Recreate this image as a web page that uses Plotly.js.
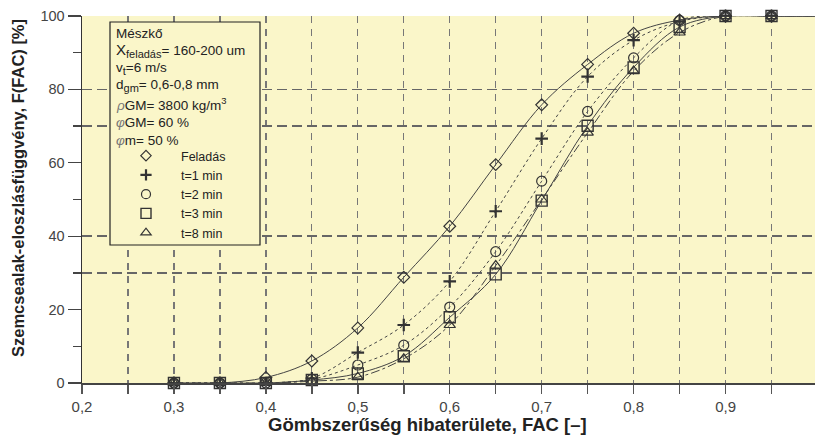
<!DOCTYPE html>
<html><head><meta charset="utf-8">
<script src="https://cdn.plot.ly/plotly-3.0.1.min.js"></script>
<style>html,body{margin:0;padding:0;background:#fff}#chart{width:815px;height:437px}</style>
</head><body><div id="chart"></div>
<script>
// ---- data ----
const fac = [0.3,0.35,0.4,0.45,0.5,0.55,0.6,0.65,0.7,0.75,0.8,0.85,0.9,0.95,1.0];
const feladas = [0,0,1.5,6,15,28.8,42.7,59.5,75.8,86.8,95.3,98.9,100,100,100];
const t1min  = [0,0,0,1.3,8.3,15.8,27.7,46.8,66.6,83.5,93.4,98.5,100,100,100];
const t2min  = [0,0,0,1,4.9,10.3,20.7,35.8,55,74,88.6,98.8,100,100,100];
const t3min  = [0,0,0,0.8,2.6,7.3,17.9,29.6,49.7,70.1,86,97,100,100,100];
const t8min  = [0,0,0,0.5,1.6,6.6,15.8,32,50,68.2,85,95.5,100,100,100];
const seriesNames = ['Feladás','t=1 min','t=2 min','t=3 min','t=8 min'];
const yTickVals = [0,20,40,60,80,100];
const yGridVals = [30,40,70,80];
const S = t => '<sub><span style="font-size:11px">'+t+'</span></sub>';
const infoLines = [
  'Mészkő',
  '<span style="font-size:15px">X</span>'+S('feladás')+'= 160-200 um',
  'v'+S('t')+'=6 m/s',
  'd'+S('gm')+'= 0,6-0,8 mm',
  '<i><span style="color:#777">ρ</span></i>GM= 3800 kg/m<sup>3</sup>',
  '<i><span style="color:#777">φ</span></i>GM= 60 %',
  '<i><span style="color:#777">φ</span></i>m= 50 %'
];

const ink = '#333';
const bg = '#faf6c9';
const ys = [feladas,t1min,t2min,t3min,t8min];
const sym = ['diamond-open','cross-thin-open','circle-open','square-open','triangle-up-open'];
const msize = [9,9,10,11,10];
const mline = [1.2,2.2,1.2,1.4,1.2];
const dash = ['solid','dot','dot','solid','dashdot'];

const traces = [];
ys.forEach((y,i)=>{
  traces.push({x:fac,y:y,type:'scatter',mode:'lines+markers',showlegend:false,cliponaxis:false,
    line:{shape:'spline',smoothing:1,color:'#444',width:1,dash:dash[i]},
    marker:{symbol:sym[i],size:msize[i],color:ink,line:{color:ink,width:mline[i]}}});
});
ys.forEach((y,i)=>{
  traces.push({x:[null],y:[null],type:'scatter',mode:'markers',name:seriesNames[i],yaxis:'y2',
    marker:{symbol:sym[i],size:msize[i]-1,color:ink,line:{color:ink,width:mline[i]}}});
});

const L=82, R=815, T=16, B=383;
const pw=R-L, ph=B-T;
const px=v=>(v-L)/pw, py=v=>(B-v)/ph;
const FF='Liberation Sans, Arial, sans-serif';

const annotations = [];
const infoY=[33,51,68,85,104,122,140];
infoLines.forEach((t,i)=>annotations.push({xref:'paper',yref:'paper',x:px(114),y:py(infoY[i]),
  xanchor:'left',yanchor:'middle',showarrow:false,text:t,font:{family:FF,size:13.5,color:'#222'}}));
annotations.push({xref:'paper',yref:'paper',x:px(427),y:py(425),xanchor:'center',yanchor:'middle',showarrow:false,
  text:'<b>Gömbszerűség hibaterülete, FAC [–]</b>',font:{family:FF,size:18.5,color:'#222'}});
annotations.push({xref:'paper',yref:'paper',x:px(18),y:py(188),xanchor:'center',yanchor:'middle',showarrow:false,textangle:-90,
  text:'<b>Szemcsealak-eloszlásfüggvény, F(FAC) [%]</b>',font:{family:FF,size:16.5,color:'#222'}});

const layout = {
  width:815,height:437,margin:{l:L,r:0,t:T,b:437-B,pad:0},
  paper_bgcolor:'#fff',plot_bgcolor:bg,separators:', ',
  font:{family:FF,size:13,color:'#444'},
  xaxis:{range:[0.2,0.9973],dtick:0.1,tick0:0.2,tickformat:'.1f',ticks:'outside',ticklen:9,tickwidth:1.5,tickcolor:'#555',
    showgrid:true,gridcolor:'#777',gridwidth:1.3,griddash:'7px,6px',zeroline:false,
    showline:true,linecolor:'#444',linewidth:1.5,tickfont:{size:15,color:'#444'},
    minor:{dtick:0.05,tick0:0.2,ticks:'outside',ticklen:9,tickwidth:1.5,tickcolor:'#555',showgrid:true,gridcolor:'#777',gridwidth:1.3,griddash:'7px,6px'}},
  yaxis:{range:[0,100],tickvals:yTickVals,ticks:'outside',ticklen:13,tickwidth:1.3,tickcolor:'#444',showgrid:false,zeroline:false,
    showline:true,linecolor:'#333',linewidth:1.5,tickfont:{size:14.5,color:'#444'},
    minor:{dtick:10,ticks:'outside',ticklen:8,tickwidth:1.3,tickcolor:'#444'}},
  yaxis2:{overlaying:'y',range:[0,100],tickvals:yGridVals,showticklabels:false,ticks:'',showgrid:true,gridcolor:'#666',gridwidth:1.5,
    griddash:'10px,5px',zeroline:false,showline:false,side:'left'},
  shapes:[{type:'rect',xref:'paper',yref:'paper',x0:px(110),x1:px(260),y0:py(245),y1:py(22),
    line:{color:'#222',width:1.2},fillcolor:bg,layer:'above'}],
  legend:{x:px(111),y:py(141),xanchor:'left',yanchor:'top',bgcolor:'rgba(0,0,0,0)',borderwidth:0,itemwidth:60,
    tracegroupgap:0,font:{family:FF,size:12.5,color:'#222'}},
  annotations:annotations
};
Plotly.newPlot('chart',traces,layout,{staticPlot:true,displayModeBar:false});
</script></body></html>
